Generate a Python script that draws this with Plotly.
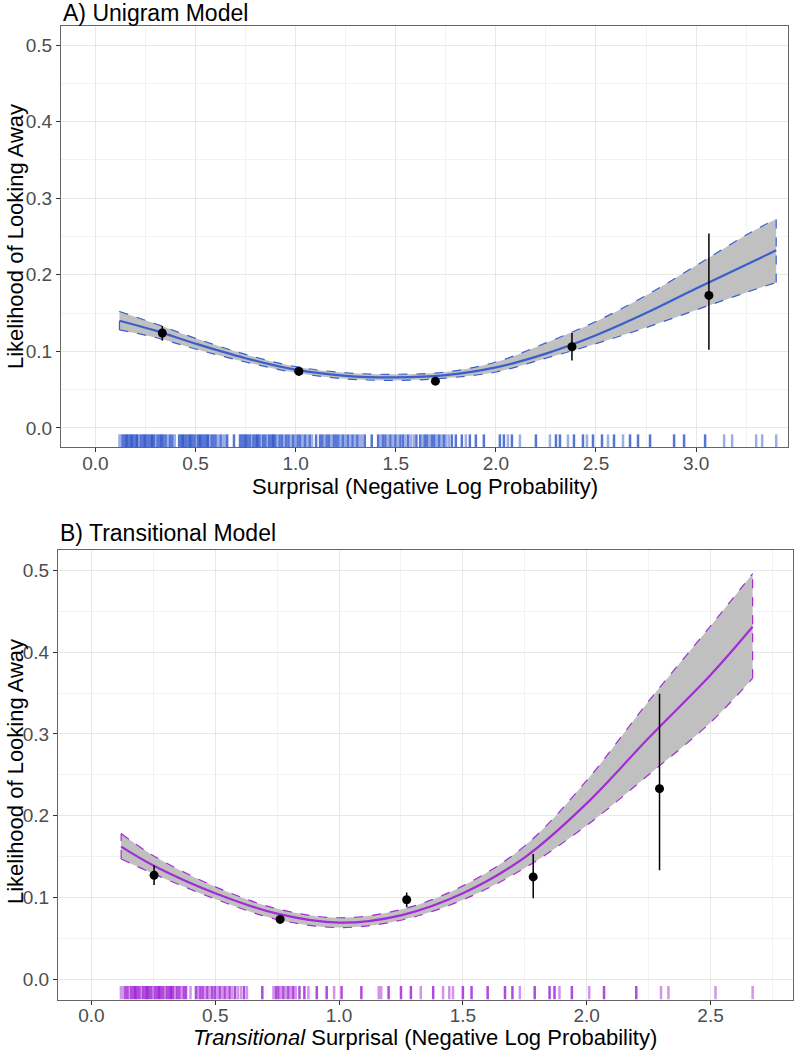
import plotly.graph_objects as go

W, H = 794, 1050
FONT = "Liberation Sans, Arial, sans-serif"

# ---------------- Panel A: unigram model ----------------
curve_a_x = [0.12, 0.30, 0.50, 0.75, 1.00, 1.25, 1.50, 1.75, 2.00, 2.25, 2.50, 2.75, 3.00, 3.25, 3.40]
curve_a_y = [0.140, 0.127, 0.110, 0.091, 0.076, 0.068, 0.066, 0.069, 0.079, 0.097, 0.121, 0.150, 0.182, 0.213, 0.232]
curve_a_lo = [0.128, 0.118, 0.103, 0.086, 0.072, 0.064, 0.062, 0.065, 0.073, 0.091, 0.110, 0.131, 0.154, 0.177, 0.190]
curve_a_hi = [0.152, 0.136, 0.117, 0.096, 0.080, 0.072, 0.070, 0.073, 0.086, 0.111, 0.139, 0.173, 0.212, 0.252, 0.273]

pts_a_x = [0.334, 1.016, 1.698, 2.380, 3.064]
pts_a_y = [0.124, 0.074, 0.061, 0.106, 0.173]
pts_a_lo = [0.114, 0.068, 0.057, 0.088, 0.102]
pts_a_hi = [0.133, 0.080, 0.065, 0.124, 0.254]

rug_a_x = [
    0.120, 0.128, 0.137, 0.146, 0.155, 0.163, 0.172, 0.181, 0.190, 0.199, 0.208, 0.218, 0.227, 0.236, 0.246,
    0.255, 0.264, 0.274, 0.283, 0.292, 0.301, 0.311, 0.321, 0.330, 0.340, 0.350, 0.360, 0.372, 0.384, 0.396,
    0.418, 0.427, 0.436, 0.446, 0.455, 0.465, 0.474, 0.484, 0.494, 0.503, 0.513, 0.522, 0.532, 0.542, 0.551,
    0.561, 0.571, 0.581, 0.590, 0.600, 0.612, 0.625, 0.637, 0.648, 0.658, 0.692,
    0.722, 0.731, 0.740, 0.750, 0.760, 0.770, 0.779, 0.789, 0.798, 0.808, 0.818, 0.828, 0.838, 0.848, 0.858,
    0.868, 0.878, 0.888, 0.898, 0.909, 0.920, 0.931, 0.942, 0.953, 0.964, 0.975, 0.987, 0.998, 1.010, 1.022,
    1.034, 1.046, 1.058, 1.070, 1.082, 1.102,
    1.122, 1.133, 1.144, 1.155, 1.166, 1.178, 1.190, 1.201, 1.213, 1.225, 1.236, 1.248, 1.260, 1.272, 1.284,
    1.296, 1.308, 1.320, 1.332, 1.345, 1.380,
    1.412, 1.424, 1.436, 1.448, 1.460, 1.473, 1.485, 1.498, 1.510, 1.523, 1.536, 1.549, 1.562, 1.576, 1.590, 1.603,
    1.622, 1.634, 1.645, 1.656, 1.668, 1.680, 1.692, 1.704, 1.716, 1.728, 1.740, 1.752, 1.765, 1.780,
    1.800, 1.830, 1.850, 1.870, 1.900, 1.940, 2.020, 2.040, 2.060, 2.080, 2.120, 2.200, 2.270, 2.300, 2.320,
    2.360, 2.390, 2.435, 2.455, 2.485, 2.530, 2.560, 2.590, 2.635, 2.670, 2.710, 2.770, 2.890, 2.940, 3.045,
    3.140, 3.180, 3.300, 3.330, 3.400,
]
rug_a_n = [
    1, 1, 2, 2, 3, 2, 2, 3, 2, 2, 3, 1, 2, 2, 3,
    2, 2, 2, 3, 2, 1, 2, 2, 3, 2, 2, 1, 2, 2, 1,
    2, 2, 3, 2, 2, 2, 3, 2, 2, 1, 2, 3, 2, 2, 2,
    3, 1, 2, 2, 2, 1, 2, 1, 1, 2, 2,
    2, 2, 2, 3, 2, 2, 1, 2, 2, 3, 2, 1, 2, 2, 1,
    2, 2, 3, 2, 1, 2, 2, 1, 2, 2, 1, 2, 1, 2, 2,
    1, 2, 1, 2, 1, 2,
    2, 2, 1, 2, 2, 1, 2, 2, 2, 1, 2, 1, 2, 1, 2,
    1, 2, 1, 1, 2, 2,
    2, 1, 2, 2, 1, 2, 1, 2, 1, 2, 2, 1, 2, 1, 1, 2,
    2, 1, 2, 2, 1, 2, 2, 1, 2, 1, 2, 1, 1, 2,
    2, 2, 1, 2, 2, 2, 2, 2, 1, 2, 1, 2, 1, 2, 2,
    1, 2, 2, 1, 2, 2, 1, 2, 1, 2, 2, 2, 2, 2, 2,
    1, 1, 1, 1, 1,
]

# ---------------- Panel B: transitional model ----------------
curve_b_x = [0.12, 0.25, 0.50, 0.75, 1.00, 1.25, 1.50, 1.75, 2.00, 2.25, 2.50, 2.67]
curve_b_y = [0.162, 0.139, 0.105, 0.080, 0.069, 0.078, 0.105, 0.149, 0.215, 0.295, 0.372, 0.431]
curve_b_lo = [0.147, 0.129, 0.098, 0.073, 0.063, 0.072, 0.097, 0.136, 0.188, 0.250, 0.314, 0.368]
curve_b_hi = [0.178, 0.151, 0.113, 0.086, 0.075, 0.085, 0.114, 0.163, 0.243, 0.340, 0.432, 0.496]

pts_b_x = [0.253, 0.762, 1.273, 1.784, 2.294]
pts_b_y = [0.127, 0.073, 0.097, 0.125, 0.233]
pts_b_lo = [0.115, 0.069, 0.088, 0.099, 0.133]
pts_b_hi = [0.139, 0.077, 0.106, 0.153, 0.349]

rug_b_x = [
    0.119, 0.128, 0.137, 0.145, 0.153, 0.161, 0.169, 0.177, 0.185, 0.193, 0.201, 0.209, 0.217, 0.225, 0.233,
    0.241, 0.249, 0.257, 0.265, 0.273, 0.281, 0.289, 0.297, 0.305, 0.313, 0.321, 0.329, 0.337, 0.346, 0.355,
    0.364, 0.373, 0.382, 0.400,
    0.422, 0.431, 0.440, 0.449, 0.458, 0.468, 0.478, 0.488, 0.498, 0.508, 0.518, 0.528, 0.538, 0.548, 0.558,
    0.569, 0.580, 0.592, 0.604, 0.616, 0.628,
    0.690, 0.735, 0.745, 0.755, 0.765, 0.775, 0.785, 0.795, 0.805, 0.815, 0.825, 0.840, 0.860, 0.876, 0.910,
    0.950, 0.980, 1.010, 1.090, 1.160, 1.170, 1.200, 1.250, 1.290, 1.330, 1.380, 1.420, 1.445, 1.460, 1.500,
    1.535, 1.600, 1.670, 1.700, 1.730, 1.790, 1.850, 1.870, 1.890, 1.940, 2.010, 2.070, 2.200, 2.300, 2.330,
    2.520, 2.670,
]
rug_b_n = [
    1, 1, 2, 2, 1, 2, 2, 3, 2, 2, 1, 2, 2, 3, 2,
    2, 1, 2, 2, 3, 2, 2, 1, 2, 2, 3, 2, 1, 2, 2,
    1, 2, 2, 1,
    2, 1, 2, 2, 1, 2, 1, 2, 2, 1, 2, 1, 2, 1, 2,
    1, 2, 1, 1, 2, 1,
    2, 1, 2, 2, 1, 2, 1, 2, 1, 2, 1, 2, 2, 1, 2,
    2, 1, 2, 2, 1, 1, 2, 2, 2, 1, 2, 1, 1, 1, 2,
    2, 2, 2, 2, 1, 2, 2, 2, 1, 2, 1, 2, 2, 1, 1,
    1, 1,
]

BLUE = "#3A5FCD"
PURPLE = "#A32CD6"
RIBBON = "#C0C0C0"
RUG_ALPHA = {1: 0.5, 2: 0.85, 3: 1.0}

fig = go.Figure()


def add_panel(xa, ya, cx, cy, clo, chi, px, py, plo, phi, rx, rn, color, y_bottom):
    # ribbon fill + dashed outline
    fig.add_trace(go.Scatter(x=cx, y=chi, mode="lines", line=dict(color=color, width=1.2, dash="dash", shape="spline"),
                             xaxis=xa, yaxis=ya, hoverinfo="skip"))
    fig.add_trace(go.Scatter(x=cx, y=clo, mode="lines", line=dict(color=color, width=1.2, dash="dash", shape="spline"),
                             fill="tonexty", fillcolor=RIBBON, xaxis=xa, yaxis=ya, hoverinfo="skip"))
    for i in (0, -1):
        fig.add_trace(go.Scatter(x=[cx[i], cx[i]], y=[clo[i], chi[i]], mode="lines",
                                 line=dict(color=color, width=1.2, dash="dash"), xaxis=xa, yaxis=ya, hoverinfo="skip"))
    # fitted curve
    fig.add_trace(go.Scatter(x=cx, y=cy, mode="lines", line=dict(color=color, width=2.2, shape="spline"),
                             xaxis=xa, yaxis=ya))
    # rug (3% of panel height)
    rug_len = 0.03 * 0.55
    groups = {}
    for v, n in zip(rx, rn):
        groups.setdefault(n, []).append(v)
    for n in sorted(groups):
        xx, yy = [], []
        for v in groups[n]:
            xx += [v, v, None]
            yy += [y_bottom, y_bottom + rug_len, None]
        fig.add_trace(go.Scatter(x=xx, y=yy, mode="lines", line=dict(color=color, width=2.5),
                                 opacity=RUG_ALPHA[n], xaxis=xa, yaxis=ya, hoverinfo="skip"))
    # binned means with error bars
    fig.add_trace(go.Scatter(
        x=px, y=py, mode="markers", marker=dict(color="black", size=9),
        error_y=dict(type="data", symmetric=False,
                     array=[h - m for h, m in zip(phi, py)],
                     arrayminus=[m - l for m, l in zip(py, plo)],
                     color="black", thickness=1.5, width=0),
        xaxis=xa, yaxis=ya))


add_panel("x", "y", curve_a_x, curve_a_y, curve_a_lo, curve_a_hi,
          pts_a_x, pts_a_y, pts_a_lo, pts_a_hi, rug_a_x, rug_a_n, BLUE, -0.025)
add_panel("x2", "y2", curve_b_x, curve_b_y, curve_b_lo, curve_b_hi,
          pts_b_x, pts_b_y, pts_b_lo, pts_b_hi, rug_b_x, rug_b_n, PURPLE, -0.025)


def axis(rng, dtick, minor_dtick, dom, anchor, **kw):
    d = dict(range=rng, domain=dom, anchor=anchor, tick0=0, dtick=dtick, tickformat=".1f",
             showgrid=True, gridcolor="#E8E8E8", gridwidth=1.2,
             minor=dict(tick0=0, dtick=minor_dtick, showgrid=True, gridcolor="#F2F2F2", gridwidth=0.7),
             zeroline=False, showline=True, mirror=True, linecolor="#666666", linewidth=1.3,
             ticks="outside", ticklen=4, tickcolor="#333333", tickwidth=1,
             tickfont=dict(family=FONT, size=19, color="#4D4D4D"), automargin=False)
    d.update(kw)
    return d


def px_x(p):
    return p / W


def px_y(p):
    return 1 - p / H


fig.update_layout(
    width=W, height=H, margin=dict(l=0, r=0, t=0, b=0),
    paper_bgcolor="white", plot_bgcolor="white", showlegend=False,
    font=dict(family=FONT, color="black"),
    xaxis=axis([-0.172, 3.459], 0.5, 0.25, [px_x(61), px_x(788)], "y", ticklabelstandoff=-5),
    yaxis=axis([-0.025, 0.525], 0.1, 0.05, [px_y(447), px_y(26)], "x"),
    xaxis2=axis([-0.135, 2.833], 0.5, 0.25, [px_x(58), px_x(793)], "y2", ticklabelstandoff=-5),
    yaxis2=axis([-0.025, 0.525], 0.1, 0.05, [px_y(999.5), px_y(550)], "x2"),
)

labels = [
    ("A) Unigram Model", 61, 13, 23, 0, "left", "middle"),
    ("B) Transitional Model", 58, 533, 23, 0, "left", "middle"),
    ("Surprisal (Negative Log Probability)", 424.5, 486, 22, 0, "center", "middle"),
    ("<i>Transitional</i> Surprisal (Negative Log Probability)", 425.5, 1037, 22, 0, "center", "middle"),
    ("Likelihood of Looking Away", 15, 237, 22, -90, "center", "middle"),
    ("Likelihood of Looking Away", 15, 772, 22, -90, "center", "middle"),
]
for text, x, y, size, angle, xanchor, yanchor in labels:
    fig.add_annotation(text=text, x=px_x(x), y=px_y(y), xref="paper", yref="paper",
                       xanchor=xanchor, yanchor=yanchor, showarrow=False, textangle=angle,
                       font=dict(family=FONT, size=size, color="black"))

# drop the page's default body margin so the figure sits at the window's corner
fig.write_html("out.html", config={"displayModeBar": False},
               post_script="document.body.style.margin = '0';")
